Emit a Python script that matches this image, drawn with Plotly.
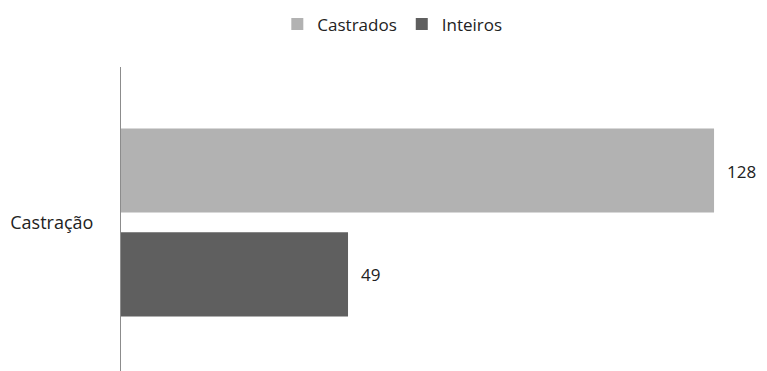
import plotly.graph_objects as go

categories = ["Castração"]
series_names = ["Castrados", "Inteiros"]
castrados = [128]
inteiros = [49]
colors = ["#B2B2B2", "#5F5F5F"]
label_shift = [51, -52]

fig = go.Figure()
for i, (name, vals, col) in enumerate(zip(series_names, [castrados, inteiros], colors)):
    fig.add_trace(go.Bar(y=categories, x=vals, name=name, orientation="h",
                         marker=dict(color=col, line=dict(width=0))))
    for c, v in zip(categories, vals):
        fig.add_annotation(x=v, y=c, xref="x", yref="y",
                           text=str(v), showarrow=False, xanchor="left", xshift=11,
                           yshift=label_shift[i], font=dict(size=17, color="#222"))

fig.update_layout(
    width=767, height=371,
    margin=dict(l=121, r=0, t=67, b=0, autoexpand=False),
    paper_bgcolor="white", plot_bgcolor="white",
    barmode="group", bargap=0.316, bargroupgap=0.19,
    font=dict(family="Open Sans", size=17, color="#222"),
    showlegend=True,
    legend=dict(orientation="h", x=0.42, xanchor="center", y=1.14, yanchor="middle",
                font=dict(size=17), itemwidth=30, traceorder="normal"),
)
fig.update_xaxes(range=[0, 139.43], visible=False, showgrid=False)
fig.update_yaxes(range=[0.4885, -0.5115], showline=True, linecolor="#8C8C8C", linewidth=1,
                 showgrid=False, zeroline=False, ticks="", ticklabelstandoff=23,
                 tickfont=dict(size=18, color="#222"))
fig.write_html("out.html")
